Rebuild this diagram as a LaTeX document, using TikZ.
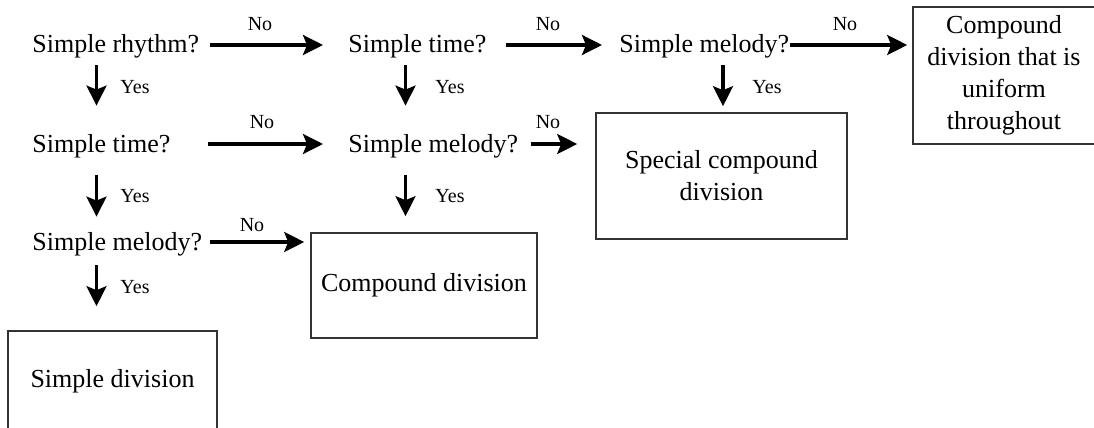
\documentclass[tikz,border=0pt]{standalone}
\usepackage{fontspec}
\setmainfont{Liberation Serif}
\usetikzlibrary{arrows.meta}

\tikzset{
  ask/.style={inner sep=0pt, text height=9.5pt, text depth=1.5pt, anchor=base west,
    font=\fontsize{13}{16}\selectfont},
  result/.style={draw=black!80, line width=0.8pt, align=center, inner sep=0pt,
    font=\fontsize{13}{16}\selectfont},
  yn/.style={inner sep=0pt, anchor=base, font=\fontsize{10}{12}\selectfont},
  arr/.style={line width=1.6pt, -{Stealth[length=10pt,width=10pt,inset=2pt]}},
}

\begin{document}
\begin{tikzpicture}[x=0.5pt,y=-0.5pt]
    \useasboundingbox (0,0) rectangle (1094,428);
    \clip (0,0) rectangle (1094,428);
    % questions
    \node[ask] (rhythm) at (32,53) {Simple rhythm?};
    \node[ask] (timeA) at (348,53) {Simple time?};
    \node[ask] (melodyA) at (619,53) {Simple melody?};
    \node[ask] (timeB) at (32,152) {Simple time?};
    \node[ask] (melodyB) at (348,152) {Simple melody?};
    \node[ask] (melodyC) at (32,250) {Simple melody?};
    % results
    \node[result, minimum width=91pt, minimum height=68.5pt] (uniform) at (1004,75.5)
        {Compound\\division that is\\uniform\\throughout};
    \node[result, minimum width=125.5pt, minimum height=63pt] (special) at (721.5,176)
        {Special compound\\division};
    \node[result, minimum width=113pt, minimum height=52.5pt] (compound) at (424,285.5)
        {Compound division};
    \node[result, minimum width=104.5pt, minimum height=50pt] (simple) at (112.5,381)
        {Simple division};
    % columns of the down arrows
    \coordinate (colA) at (96.5,0);
    \coordinate (colB) at (405.5,0);
    \coordinate (colC) at (723,0);
    % no
    \draw[arr, shorten <=5pt, shorten >=12.5pt] (rhythm.east) -- (timeA.west);
    \draw[arr, shorten <=9.5pt, shorten >=8.5pt] (timeA.east) -- (melodyA.west);
    \draw[arr, shorten >=2.5pt] (melodyA.east) -- (melodyA.east -| uniform.west);
    \draw[arr, shorten <=18.5pt, shorten >=12.5pt] (timeB.east) -- (melodyB.west);
    \draw[arr, shorten <=6pt, shorten >=9pt] (melodyB.east) -- (melodyB.east -| special.west);
    \draw[arr, shorten <=4pt, shorten >=3pt] (melodyC.east) -- (melodyC.east -| compound.west);
    % yes
    \draw[arr, shorten <=4.5pt, shorten >=13.5pt] (rhythm.south -| colA) -- (timeB.north -| colA);
    \draw[arr, shorten <=4.5pt, shorten >=13.5pt] (timeA.south -| colB) -- (melodyB.north -| colB);
    \draw[arr, shorten <=4.5pt, shorten >=3pt] (melodyA.south -| colC) -- (special.north -| colC);
    \draw[arr, shorten <=10pt, shorten >=7pt] (timeB.south -| colA) -- (melodyC.north -| colA);
    \draw[arr, shorten <=10pt, shorten >=8pt] (melodyB.south -| colB) -- (compound.north -| colB);
    \draw[arr, shorten <=6pt, shorten >=12pt] (melodyC.south -| colA) -- (simple.north -| colA);
    % labels
    \node[yn] (noA) at (260,31) {No};
    \node[yn] (noB) at (548,31) {No};
    \node[yn] (noC) at (845,31) {No};
    \node[yn] (noD) at (262,128) {No};
    \node[yn] (noE) at (548,128) {No};
    \node[yn] (noF) at (252,231) {No};
    \node[yn] (yesA) at (135,93) {Yes};
    \node[yn] (yesB) at (450,93) {Yes};
    \node[yn] (yesC) at (767,93) {Yes};
    \node[yn] (yesD) at (135,202) {Yes};
    \node[yn] (yesE) at (450,202) {Yes};
    \node[yn] (yesF) at (135,293) {Yes};
\end{tikzpicture}
\end{document}
